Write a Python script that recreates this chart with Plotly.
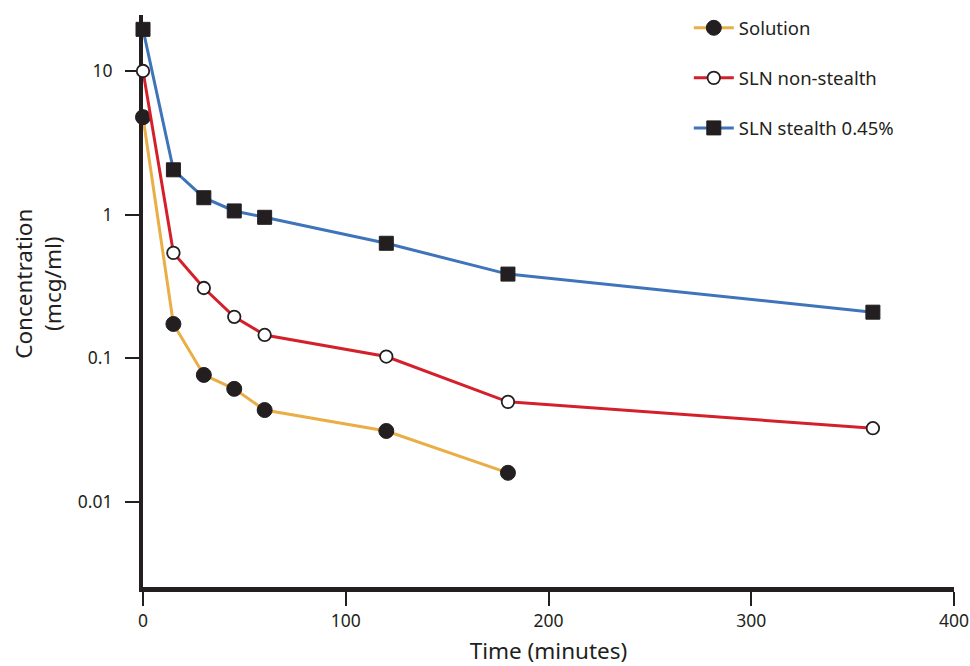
import plotly.graph_objects as go

time_solution = [0, 15, 30, 45, 60, 120, 180]
conc_solution = [4.77, 0.173, 0.0764, 0.0611, 0.0435, 0.0311, 0.0159]

time_nonstealth = [0, 15, 30, 45, 60, 120, 180, 360]
conc_nonstealth = [10, 0.541, 0.308, 0.194, 0.145, 0.1026, 0.0496, 0.0325]

time_stealth = [0, 15, 30, 45, 60, 120, 180, 360]
conc_stealth = [19.5, 2.05, 1.31, 1.06, 0.957, 0.631, 0.385, 0.209]

y_tickvals = [0.01, 0.1, 1, 10]
y_ticktext = ["0.01", "0.1", "1", "10"]
x_tickvals = [0, 100, 200, 300, 400]

FONT = "Noto Sans"
INK = "#231f20"

fig = go.Figure()
fig.add_trace(go.Scatter(
    x=time_solution, y=conc_solution, name="Solution", mode="lines+markers",
    line=dict(color="#e9ae45", width=3),
    marker=dict(symbol="circle", size=15, color=INK, line=dict(color=INK, width=1)),
    cliponaxis=False, legendgroup="a"))
fig.add_trace(go.Scatter(
    x=time_nonstealth, y=conc_nonstealth, name="SLN non-stealth", mode="lines+markers",
    line=dict(color="#d4202a", width=3),
    marker=dict(symbol="circle", size=12.5, color="white", line=dict(color=INK, width=1.8)),
    cliponaxis=False, legendgroup="b"))
fig.add_trace(go.Scatter(
    x=time_stealth, y=conc_stealth, name="SLN stealth 0.45%", mode="lines+markers",
    line=dict(color="#3e74b9", width=3),
    marker=dict(symbol="square", size=14, color=INK, line=dict(color=INK, width=1)),
    cliponaxis=False, legendgroup="c"))

fig.update_layout(
    width=970, height=666,
    margin=dict(l=143, r=16, t=15, b=79, autoexpand=False),
    paper_bgcolor="white", plot_bgcolor="white",
    font=dict(family=FONT, color=INK, size=17),
    showlegend=True,
    legend=dict(x=0.673, y=1.01, xanchor="left", yanchor="top",
                font=dict(size=18.5, family=FONT, color=INK),
                itemwidth=40, tracegroupgap=23, bgcolor="rgba(0,0,0,0)"),
    xaxis=dict(range=[0, 400], tickvals=x_tickvals, showgrid=False, zeroline=False,
               showline=True, linecolor=INK, linewidth=5, ticks="outside",
               ticklen=14, tickwidth=2.2, tickcolor=INK, layer="below traces",
               automargin=False, ticklabeloverflow="allow",
               tickfont=dict(size=17.5, family=FONT),
               title=dict(text="Time (minutes)", font=dict(size=22.5, family=FONT), standoff=19)),
    yaxis=dict(type="log", range=[-2.594, 1.39], tickvals=y_tickvals, ticktext=y_ticktext,
               showgrid=False, zeroline=False, showline=True, linecolor=INK, linewidth=4,
               ticks="outside", ticklen=14, tickwidth=2.2, tickcolor=INK, layer="below traces",
               automargin=False, ticklabelstandoff=9,
               tickfont=dict(size=17.5, family=FONT)),
    annotations=[dict(text="Concentration<br>(mcg/ml)", xref="paper", yref="paper",
                      x=-0.169, y=0.53, xanchor="left", yanchor="middle",
                      textangle=-90, showarrow=False,
                      font=dict(size=22.5, family=FONT, color=INK))],
)

fig.write_html("out.html",
               config={"displayModeBar": False},
               post_script="document.body.style.margin='0';document.body.style.overflow='hidden';")
